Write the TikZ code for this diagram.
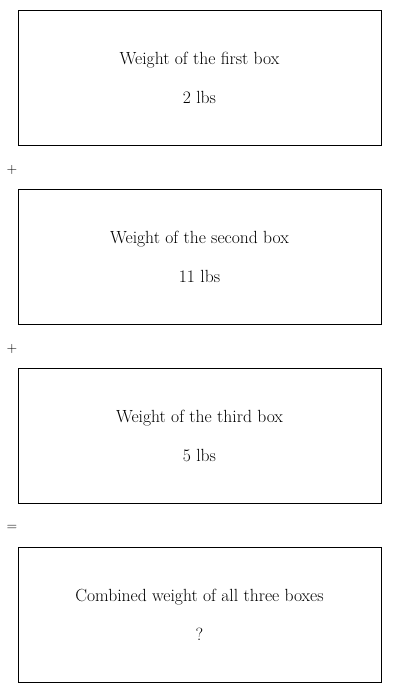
\documentclass[tikz,border=0pt]{standalone}
\begin{document}
\begin{tikzpicture}[x=1pt,y=1pt,
  wbox/.style={draw, line width=0.8pt, minimum width=363pt, minimum height=135pt, inner sep=0pt, align=center, font=\fontsize{17.6}{39}\selectfont},
  opsym/.style={font=\sffamily\fontsize{14}{16}\selectfont, inner sep=0pt}]
\useasboundingbox (0,0) rectangle (400,-693);
\node[wbox] (b1) at (199.5,-77.5) {Weight of the first box\\2 lbs};
\node[wbox] (b2) at (199.5,-256.5) {Weight of the second box\\11 lbs};
\node[wbox] (b3) at (199.5,-435.5) {Weight of the third box\\5 lbs};
\node[wbox] (b4) at (199.5,-614.5) {Combined weight of all three boxes\\?};
\node[opsym] (p1) at (12,-170) {+};
\node[opsym] (p2) at (12,-349) {+};
\node[opsym] (eq) at (12,-528) {=};
\end{tikzpicture}
\end{document}
